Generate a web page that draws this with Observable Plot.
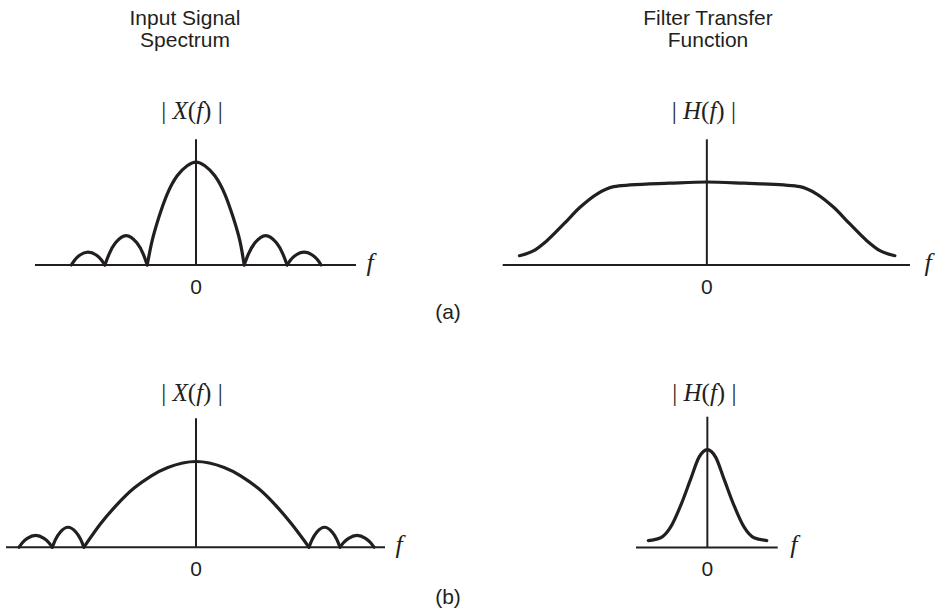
<!DOCTYPE html>
<html>
<head>
<meta charset="utf-8">
<script src="https://cdn.jsdelivr.net/npm/d3@7"></script>
<script src="https://cdn.jsdelivr.net/npm/@observablehq/plot@0.6"></script>
<style>
  body { margin: 0; background: #fff; }
  #fig { position: relative; width: 938px; height: 613px; overflow: hidden;
         font-family: "Liberation Sans", Arial, sans-serif; color: #231f20; }
  .panel { position: absolute; }
  .panel svg { background: transparent !important; overflow: visible; }
  .head { position: absolute; width: 240px; font-size: 21px; line-height: 22px; text-align: center; }
  .tag { position: absolute; width: 60px; font-size: 21px; line-height: 22px; text-align: center; }
</style>
</head>
<body>
<div id="fig">
  <div class="head" style="left:65px; top:6.7px">Input Signal<br>Spectrum</div>
  <div class="head" style="left:588px; top:6.7px">Filter Transfer<br>Function</div>
  <div class="tag" style="left:418px; top:300.7px">(a)</div>
  <div class="tag" style="left:418px; top:585.7px">(b)</div>
</div>
<script>
const INK = "#231f20";
const SERIF = "'Liberation Serif', 'Times New Roman', serif";
const SANS = "'Liberation Sans', Arial, sans-serif";

// Frequency-axis tick labels
const fTicks = ["0"];

// (a) input spectrum |X(f)|: main lobe and side lobes, one lobe id per point
const xA_f = [
  -2.57, -2.50, -2.40, -2.23, -2.05, -1.95, -1.88,
  -1.88, -1.79, -1.66, -1.44, -1.22, -1.09, -1.006,
  -1.006, -0.904, -0.766, -0.594, -0.388, -0.182, 0, 0.182, 0.388, 0.594, 0.766, 0.904, 0.994,
  0.994, 1.083, 1.216, 1.437, 1.659, 1.79, 1.88,
  1.88, 1.95, 2.055, 2.23, 2.405, 2.51, 2.58
];
const xA_mag = [
  0, 0.048, 0.095, 0.126, 0.095, 0.048, 0,
  0, 0.109, 0.215, 0.286, 0.215, 0.109, 0,
  0, 0.236, 0.463, 0.689, 0.867, 0.964, 1, 0.964, 0.867, 0.689, 0.463, 0.236, 0,
  0, 0.109, 0.215, 0.286, 0.215, 0.109, 0,
  0, 0.048, 0.095, 0.126, 0.095, 0.048, 0
];
const xA_lobe = [
  -2, -2, -2, -2, -2, -2, -2,
  -1, -1, -1, -1, -1, -1, -1,
  0, 0, 0, 0, 0, 0, 0, 0, 0, 0, 0, 0, 0,
  1, 1, 1, 1, 1, 1, 1,
  2, 2, 2, 2, 2, 2, 2
];

// (a) filter transfer function |H(f)|: wide, flat passband
const hA_f = [-3.00, -2.77, -2.56, -2.29, -2.03, -1.76, -1.49, -1.23, -0.6, 0, 0.6, 1.23, 1.49, 1.76, 2.03, 2.29, 2.56, 2.77, 3.01];
const hA_mag = [0.112, 0.173, 0.293, 0.494, 0.695, 0.855, 0.944, 0.964, 0.985, 1.0, 0.985, 0.964, 0.944, 0.855, 0.695, 0.494, 0.293, 0.173, 0.112];

// (b) input spectrum |X(f)|: wide main lobe and side lobes
const xB_f = [
  -1.573, -1.543, -1.499, -1.425, -1.351, -1.307, -1.277,
  -1.277, -1.249, -1.207, -1.137, -1.066, -1.024, -0.996,
  -0.996, -0.85, -0.70, -0.55, -0.40, -0.25, 0, 0.25, 0.40, 0.55, 0.70, 0.85, 1.004,
  1.004, 1.032, 1.073, 1.142, 1.211, 1.252, 1.28,
  1.28, 1.31, 1.356, 1.431, 1.506, 1.552, 1.582
];
const xB_mag = [
  0, 0.052, 0.103, 0.137, 0.103, 0.052, 0,
  0, 0.089, 0.175, 0.233, 0.175, 0.089, 0,
  0, 0.27, 0.50, 0.69, 0.83, 0.93, 1, 0.93, 0.83, 0.69, 0.50, 0.27, 0,
  0, 0.089, 0.175, 0.233, 0.175, 0.089, 0,
  0, 0.052, 0.103, 0.137, 0.103, 0.052, 0
];
const xB_lobe = xA_lobe;

// (b) filter transfer function |H(f)|: narrow bell-shaped passband
const hB_f = [-2.95, -2.33, -1.83, -1.33, -0.83, -0.42, -0.2, 0, 0.2, 0.42, 0.83, 1.33, 1.83, 2.33, 2.97];
const hB_mag = [0.071, 0.10, 0.21, 0.43, 0.70, 0.92, 0.98, 1.0, 0.98, 0.92, 0.70, 0.43, 0.21, 0.10, 0.071];

// Writes |X(f)| with italic variable letters and upright delimiters
function mathLabel(textEl, letter) {
  const parts = [["|", false], ["\u00a0", false], [letter, true], ["(", false], ["f", true], [")", false], ["\u00a0", false], ["|", false]];
  textEl.textContent = "";
  for (const [s, it] of parts) {
    const t = document.createElementNS("http://www.w3.org/2000/svg", "tspan");
    t.textContent = s;
    if (it) t.setAttribute("font-style", "italic");
    textEl.appendChild(t);
  }
}

function panel(o) {
  const data = o.f.map((v, i) => ({f: v, mag: o.mag[i], lobe: o.lobe ? o.lobe[i] : 0}));
  const [f0, f1] = o.fDomain;
  const labelText = `|${o.letter}(f)|`;
  const chart = Plot.plot({
    width: o.width, height: o.height,
    marginLeft: o.mL, marginRight: o.mR, marginTop: o.mT, marginBottom: o.mB,
    x: {domain: o.fDomain, axis: null},
    y: {domain: [0, o.magTop], axis: null},
    marks: [
      Plot.ruleY([{m: 0, a: f0, b: f1}], {y: "m", x1: "a", x2: "b", stroke: INK, strokeWidth: 2}),
      Plot.ruleX([{f: 0, a: 0, b: o.magTop}], {x: "f", y1: "a", y2: "b", stroke: INK, strokeWidth: 2}),
      Plot.line(data, {x: "f", y: "mag", z: "lobe", curve: o.curve, stroke: INK, strokeWidth: 3.2}),
      Plot.text(fTicks, {x: d => +d, y: () => 0, text: d => d, lineAnchor: "bottom", dy: o.tickDy,
        fontSize: 21, fontFamily: SANS, fill: INK}),
      Plot.text(["f"], {x: () => f1, y: () => 0, text: d => d, textAnchor: "start", lineAnchor: "bottom",
        dx: o.fDx, dy: 5.5, fontSize: 26, fontStyle: "italic", fontFamily: SERIF, fill: INK}),
      Plot.text([labelText], {x: () => 0, y: () => o.magTop, text: d => d, lineAnchor: "bottom",
        dx: o.labelDx, dy: o.labelDy, fontSize: 25, fontFamily: SERIF, fill: INK})
    ]
  });
  chart.querySelectorAll("text").forEach(t => {
    if (t.textContent === labelText) mathLabel(t, o.letter);
  });
  const wrap = document.createElement("div");
  wrap.className = "panel";
  wrap.style.left = o.left + "px";
  wrap.style.top = o.top + "px";
  wrap.appendChild(chart);
  document.getElementById("fig").appendChild(wrap);
}

panel({f: xA_f, mag: xA_mag, lobe: xA_lobe, letter: "X", curve: "natural",
  fDomain: [-3.31, 3.31], magTop: 1.216,
  left: 0, top: 60, width: 400, height: 250, mL: 35, mR: 44, mT: 79.3, mB: 45.5,
  tickDy: 28.5, fDx: 10, labelDx: -4, labelDy: -21});

panel({f: hA_f, mag: hA_mag, letter: "H", curve: "monotone-x",
  fDomain: [-3.26, 3.26], magTop: 1.508,
  left: 480, top: 60, width: 458, height: 250, mL: 22.7, mR: 28, mT: 79.3, mB: 45.5,
  tickDy: 28.5, fDx: 14, labelDx: -3, labelDy: -21});

panel({f: xB_f, mag: xB_mag, lobe: xB_lobe, letter: "X", curve: "natural",
  fDomain: [-1.684, 1.684], magTop: 1.498,
  left: 0, top: 350, width: 420, height: 240, mL: 6, mR: 35, mT: 68.3, mB: 43.3,
  tickDy: 28.3, fDx: 10, labelDx: -4, labelDy: -18});

panel({f: hB_f, mag: hB_mag, letter: "H", curve: "monotone-x",
  fDomain: [-3.54, 3.54], magTop: 1.33,
  left: 600, top: 350, width: 230, height: 240, mL: 36, mR: 52.3, mT: 66.7, mB: 43,
  tickDy: 28, fDx: 12, labelDx: -3, labelDy: -16});
</script>
</body>
</html>
